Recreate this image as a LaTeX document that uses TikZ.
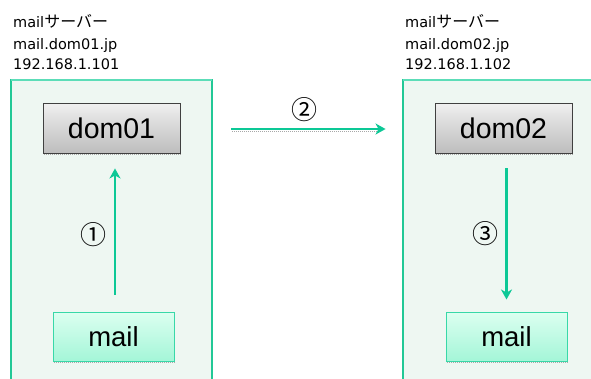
\documentclass[tikz,border=0pt]{standalone}
\usepackage{fontspec}
\usetikzlibrary{arrows.meta,calc}
\setmainfont{DejaVu Sans}
\newfontfamily\jpfont{Noto Sans CJK JP}
\newfontfamily\labelfont{Liberation Sans}
\definecolor{panelfill}{HTML}{EEF7F2}
\definecolor{panelline}{HTML}{22C896}
\definecolor{paneltop}{HTML}{5CDDB8}
\definecolor{flowcol}{HTML}{0CC896}
\definecolor{mailtop}{HTML}{DCFFF0}
\definecolor{mailbot}{HTML}{A4F6D8}
\definecolor{mailline}{HTML}{38D8A8}
\definecolor{shadowcol}{HTML}{A8A8A8}
\tikzset{
  hostbox/.style={draw=black!75, line width=0.9pt, top color=black!6, bottom color=black!26,
    minimum width=137pt, minimum height=50pt, inner sep=0pt,
    font=\labelfont\fontsize{28.5}{28.5}\selectfont},
  mailbox/.style={draw=mailline, line width=1pt, top color=mailtop, bottom color=mailbot,
    minimum width=121pt, minimum height=49pt, inner sep=0pt,
    font=\labelfont\fontsize{27.5}{27.5}\selectfont},
  infotext/.style={anchor=base west, inner sep=0pt, font=\fontsize{14.5}{14.5}\selectfont},
  stepnum/.style={inner sep=0pt, font=\jpfont\fontsize{26}{26}\selectfont},
  flow/.style={draw=flowcol, line width=2.8pt,
    -{Stealth[length=10pt,width=11pt,inset=3pt]}},
  dropshadow/.style={draw=shadowcol, line width=1.2pt, dash pattern=on 1pt off 1pt}
}
\begin{document}
\begin{tikzpicture}[x=1pt,y=-1pt]
  \useasboundingbox (0,0) rectangle (591,378);
  \fill[white] (0,0) rectangle (591,378);

  % server panels
  \fill[panelfill] (11,80) rectangle (212,380);
  \draw[panelline, line width=1.4pt] (11,380) -- (11,80) -- (212,80) -- (212,380);
  \draw[paneltop, line width=1.4pt] (11,80) -- (212,80);
  \fill[panelfill] (403,80) rectangle (593,380);
  \draw[panelline, line width=1.4pt] (403,380) -- (403,80) -- (593,80);
  \draw[paneltop, line width=1.4pt] (403,80) -- (593,80);

  % server descriptions
  \node[infotext] (h1a) at (13,27) {mail{\jpfont\fontsize{16}{16}\selectfont サーバー}};
  \node[infotext] (h1b) at (13,49) {mail.dom01.jp};
  \node[infotext] (h1c) at (13,69) {192.168.1.101};
  \node[infotext] (h2a) at (405,27) {mail{\jpfont\fontsize{16}{16}\selectfont サーバー}};
  \node[infotext] (h2b) at (405,49) {mail.dom02.jp};
  \node[infotext] (h2c) at (405,69) {192.168.1.102};

  % shadows under boxes
  \draw[dropshadow] (44,154.5) -- (181,154.5);
  \draw[dropshadow] (436,154.5) -- (573,154.5);
  \draw[dropshadow] (54,362.5) -- (175,362.5);
  \draw[dropshadow] (447,362.5) -- (568,362.5);

  % domain boxes
  \node[hostbox] (dom01) at (111.5,128) {dom01};
  \node[hostbox] (dom02) at (503.5,128) {dom02};

  % mailbox boxes
  \node[mailbox] (mail1) at (113.5,336.5) {mail};
  \node[mailbox] (mail2) at (506.5,336.5) {mail};

  % delivery flow
  \draw[flow, shorten <=17pt, shorten >=15pt]
    ([xshift=1.5pt]mail1.north) -- ([xshift=1.5pt]mail1.north |- dom01.south);
  \draw[dropshadow, line width=0.8pt] (232,131) -- (380,131);
  \draw[flow, shorten <=51pt, shorten >=49pt]
    ([yshift=-1pt]dom01.east) -- ([yshift=-1pt]dom02.west);
  \draw[flow, shorten <=15pt, shorten >=12pt]
    (dom02.south -| mail2.north) -- (mail2.north);

  % step numbers
  \node[stepnum] (s1) at (93.5,234.5) {①};
  \node[stepnum] (s2) at (304.5,110) {②};
  \node[stepnum] (s3) at (485.5,234) {③};
\end{tikzpicture}
\end{document}
